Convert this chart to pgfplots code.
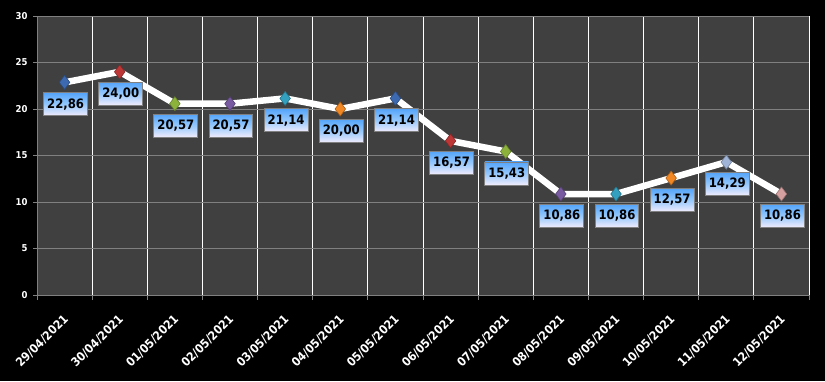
\documentclass[border=0pt]{standalone}
\usepackage{pgfplots}
\pgfplotsset{compat=1.18}
\usepackage{fontspec}
\setmainfont{DejaVu Sans Condensed}
\definecolor{plotbg}{RGB}{64,64,64}
\definecolor{gridgray}{RGB}{128,128,128}
\definecolor{m1}{RGB}{60,105,175}
\definecolor{m2}{RGB}{190,55,55}
\definecolor{m3}{RGB}{140,178,60}
\definecolor{m4}{RGB}{120,90,160}
\definecolor{m5}{RGB}{50,160,190}
\definecolor{m6}{RGB}{240,135,35}
\definecolor{m7}{RGB}{160,180,215}
\definecolor{m8}{RGB}{215,160,160}
\definecolor{boxtop}{RGB}{85,165,250}
\definecolor{boxmid}{RGB}{150,200,252}
\definecolor{boxbot}{RGB}{242,236,252}
\pgfdeclareverticalshading{lblshade}{100bp}{color(0bp)=(boxbot); color(25bp)=(boxbot); color(50bp)=(boxmid); color(75bp)=(boxtop); color(100bp)=(boxtop)}
\begin{document}
\begin{tikzpicture}[x=1bp,y=1bp]
\fill[black] (0,0) rectangle (825,381);
\begin{axis}[
  at={(37bp,86bp)}, anchor=south west,
  width=772bp, height=279bp, scale only axis,
  xmin=-0.5, xmax=13.5, ymin=0, ymax=30,
  axis background/.style={fill=plotbg},
  axis line style={gridgray, line width=0.8pt},
  axis x line*=bottom, axis y line*=left,
  xtick={0,...,13},
  xticklabels={29/04/2021,30/04/2021,01/05/2021,02/05/2021,03/05/2021,04/05/2021,05/05/2021,06/05/2021,07/05/2021,08/05/2021,09/05/2021,10/05/2021,11/05/2021,12/05/2021},
  major x tick style={draw=none},
  minor xtick={-0.5,0.5,...,13.5},
  minor x tick style={gridgray, line width=0.8pt},
  minor tick length=5bp,
  xminorgrids=true,
  minor x grid style={white, line width=1pt},
  ytick={0,5,...,30},
  ymajorgrids=true,
  major y grid style={gridgray, line width=0.8pt},
  major y tick style={gridgray, line width=0.8pt},
  major tick length=4bp,
  tick align=outside,
  /pgf/number format/assume math mode=true,
  yticklabel style={font=\fontsize{9.5}{11}\selectfont\bfseries, text=white, xshift=-2bp},
  xticklabel style={font=\fontsize{12}{14}\selectfont\bfseries, text=white, xshift=-2bp, yshift=-13bp, rotate=45, anchor=north east, inner sep=1bp},
  clip=false,
]
\addplot[white, line width=6.5bp, line join=round,
  nodes near coords, point meta=explicit symbolic,
  every node near coord/.style={anchor=north, yshift=-10bp, xshift=1bp, draw=gridgray, line width=1pt,
    shading=lblshade, text=black,
    font=\fontsize{13}{15}\selectfont\bfseries, inner xsep=3.5bp, minimum height=23bp}]
coordinates {
(0,22.86) [22,86]
(1,24.00) [24,00]
(2,20.57) [20,57]
(3,20.57) [20,57]
(4,21.14) [21,14]
(5,20.00) [20,00]
(6,21.14) [21,14]
(7,16.57) [16,57]
(8,15.43) [15,43]
(9,10.86) [10,86]
(10,10.86) [10,86]
(11,12.57) [12,57]
(12,14.29) [14,29]
(13,10.86) [10,86]
};
\pgfplotsset{mk/.style={only marks, mark=diamond*, mark size=7bp, mark options={fill=#1, draw=#1!70!black, line width=0.6pt}}}
\addplot[mk=m1] coordinates {(0,22.86)};
\addplot[mk=m2] coordinates {(1,24.00)};
\addplot[mk=m3] coordinates {(2,20.57)};
\addplot[mk=m4] coordinates {(3,20.57)};
\addplot[mk=m5] coordinates {(4,21.14)};
\addplot[mk=m6] coordinates {(5,20.00)};
\addplot[mk=m1] coordinates {(6,21.14)};
\addplot[mk=m2] coordinates {(7,16.57)};
\addplot[mk=m3] coordinates {(8,15.43)};
\addplot[mk=m4] coordinates {(9,10.86)};
\addplot[mk=m5] coordinates {(10,10.86)};
\addplot[mk=m6] coordinates {(11,12.57)};
\addplot[mk=m7] coordinates {(12,14.29)};
\addplot[mk=m8] coordinates {(13,10.86)};
\end{axis}
\end{tikzpicture}
\end{document}
